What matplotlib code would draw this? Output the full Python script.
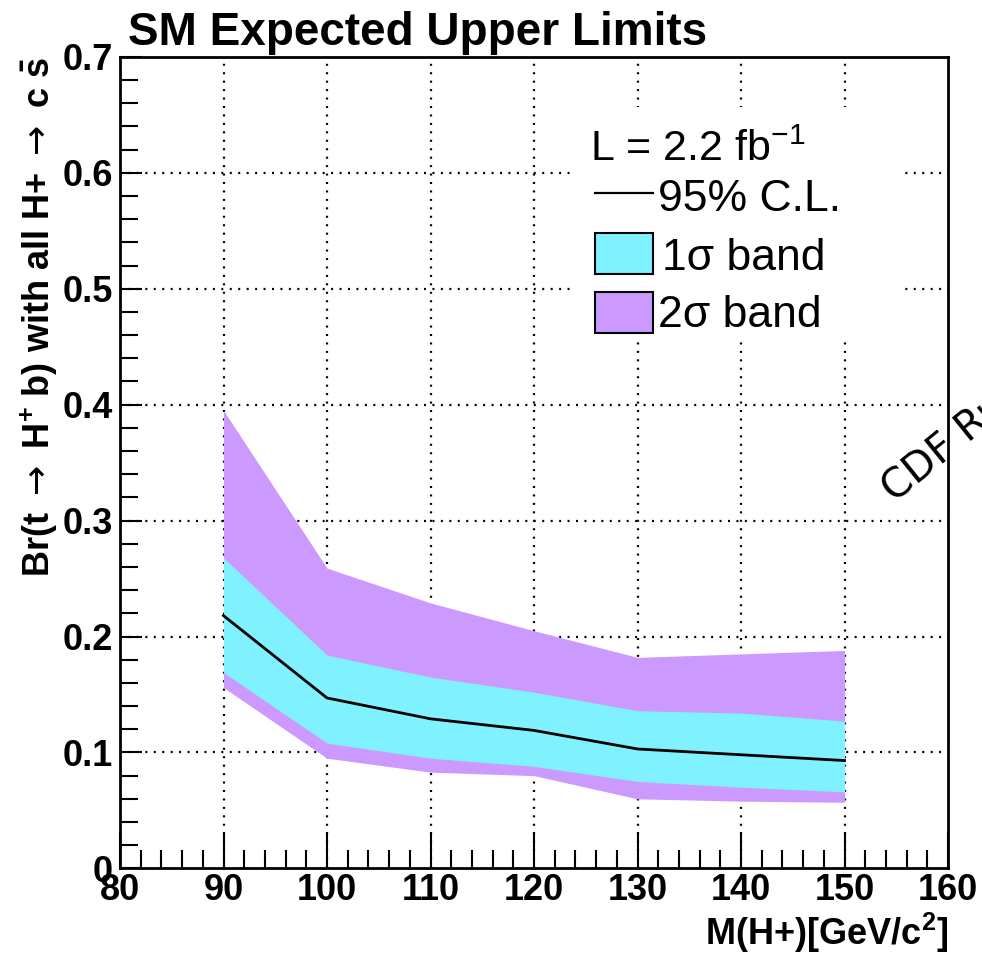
import matplotlib
matplotlib.use("Agg")
import matplotlib.pyplot as plt
from matplotlib.patches import Rectangle
from matplotlib.lines import Line2D
from matplotlib.ticker import MultipleLocator, FixedLocator, FixedFormatter

plt.rcParams['font.family'] = ['Liberation Sans', 'DejaVu Sans']
plt.rcParams['mathtext.fontset'] = 'custom'
plt.rcParams['mathtext.rm'] = 'Liberation Sans'
plt.rcParams['mathtext.bf'] = 'Liberation Sans:bold'
plt.rcParams['mathtext.sf'] = 'DejaVu Sans'
plt.rcParams['mathtext.default'] = 'bf'

# Charged Higgs mass points [GeV/c^2]
mass = [90, 100, 110, 120, 130, 140, 150]
# Expected 95% C.L. upper limit and its 1 sigma / 2 sigma bands
median = [0.218, 0.147, 0.129, 0.119, 0.103, 0.098, 0.093]
lo_1sigma = [0.169, 0.108, 0.095, 0.088, 0.075, 0.070, 0.066]
hi_1sigma = [0.268, 0.184, 0.165, 0.152, 0.136, 0.134, 0.127]
lo_2sigma = [0.156, 0.095, 0.083, 0.080, 0.060, 0.058, 0.057]
hi_2sigma = [0.395, 0.259, 0.229, 0.205, 0.182, 0.185, 0.188]

x_ticks = [80, 90, 100, 110, 120, 130, 140, 150, 160]
y_ticks = [0.0, 0.1, 0.2, 0.3, 0.4, 0.5, 0.6, 0.7]
y_tick_labels = ["0", "0.1", "0.2", "0.3", "0.4", "0.5", "0.6", "0.7"]

col_1sigma = "#80F2FF"
col_2sigma = "#CC99FF"

fig = plt.figure(figsize=(9.82, 9.59), dpi=100)
ax = fig.add_axes([0.1222, 0.0945, 0.8432, 0.8462])

ax.set_xlim(80, 160)
ax.set_ylim(0, 0.7)

# dotted grid underneath the bands
grid_style = dict(color="black", lw=1.6, ls=(0, (0.9, 2.9)), zorder=0.5)
for xv in x_ticks[1:-1]:
    ax.axvline(xv, **grid_style)
for yv in y_ticks[1:-1]:
    ax.axhline(yv, **grid_style)

ax.fill_between(mass, lo_2sigma, hi_2sigma, color=col_2sigma, lw=0, zorder=1)
ax.fill_between(mass, lo_1sigma, hi_1sigma, color=col_1sigma, lw=0, zorder=2)
ax.plot(mass, median, color="black", lw=2.0, zorder=3)

# axis ticks
ax.xaxis.set_major_locator(FixedLocator(x_ticks))
ax.xaxis.set_minor_locator(MultipleLocator(2))
ax.yaxis.set_major_locator(FixedLocator(y_ticks))
ax.yaxis.set_major_formatter(FixedFormatter(y_tick_labels))
ax.yaxis.set_minor_locator(MultipleLocator(0.02))
ax.tick_params(which="both", direction="in", top=False, right=False, width=1.5)
ax.tick_params(axis="x", which="major", length=26, pad=3, labelsize=26)
ax.tick_params(axis="x", which="minor", length=13)
ax.tick_params(axis="y", which="major", length=16, pad=5, labelsize=26)
ax.tick_params(axis="y", which="minor", length=13)
for lab in ax.get_xticklabels() + ax.get_yticklabels():
    lab.set_fontweight("bold")
for sp in ax.spines.values():
    sp.set_linewidth(2.0)

arrow = "$\\mathsf{\\rightarrow}$"
ax.set_xlabel("M(H+)[GeV/c$^{2}$]", fontsize=26, fontweight="bold", loc="right", labelpad=2)
ax.set_ylabel("Br(t " + arrow + " H$^{+}$ b) with all H+ " + arrow + " c $\\bar{\\mathbf{s}}$",
              fontsize=26, fontweight="bold", loc="top", labelpad=2)

fig.text(0.13, 0.966, "SM Expected Upper Limits", fontsize=33, fontweight="bold",
         ha="left", va="center")

# legend block on a white, borderless background
tf = ax.transAxes
ax.add_patch(Rectangle((0.5495, 0.649), 0.3985, 0.289, transform=tf, facecolor="white",
                       edgecolor="none", zorder=4))
ax.text(0.568, 0.886, "L = 2.2 fb$^{\\mathrm{-1}}$", transform=tf, fontsize=31,
        ha="left", va="center", zorder=6)
ax.add_line(Line2D([0.5737, 0.6437], [0.832, 0.832], transform=tf, color="black",
                   lw=1.6, zorder=6))
ax.text(0.650, 0.824, "95% C.L.", transform=tf, fontsize=32, ha="left", va="center", zorder=6)
ax.add_patch(Rectangle((0.5737, 0.733), 0.07, 0.05, transform=tf, facecolor=col_1sigma,
                       edgecolor="black", lw=1.5, zorder=5))
ax.text(0.654, 0.752, "1\u03c3 band", transform=tf, fontsize=32, ha="left", va="center", zorder=6)
ax.add_patch(Rectangle((0.5737, 0.660), 0.07, 0.05, transform=tf, facecolor=col_2sigma,
                       edgecolor="black", lw=1.5, zorder=5))
ax.text(0.650, 0.681, "2\u03c3 band", transform=tf, fontsize=32, ha="left", va="center", zorder=6)

# rotated run stamp, runs off the right edge
fig.text(0.911, 0.476, "CDF Run II Preliminary", fontsize=29, family="DejaVu Sans",
         rotation=39, rotation_mode="anchor", ha="left", va="baseline")

fig.savefig("out.png", dpi=100)
